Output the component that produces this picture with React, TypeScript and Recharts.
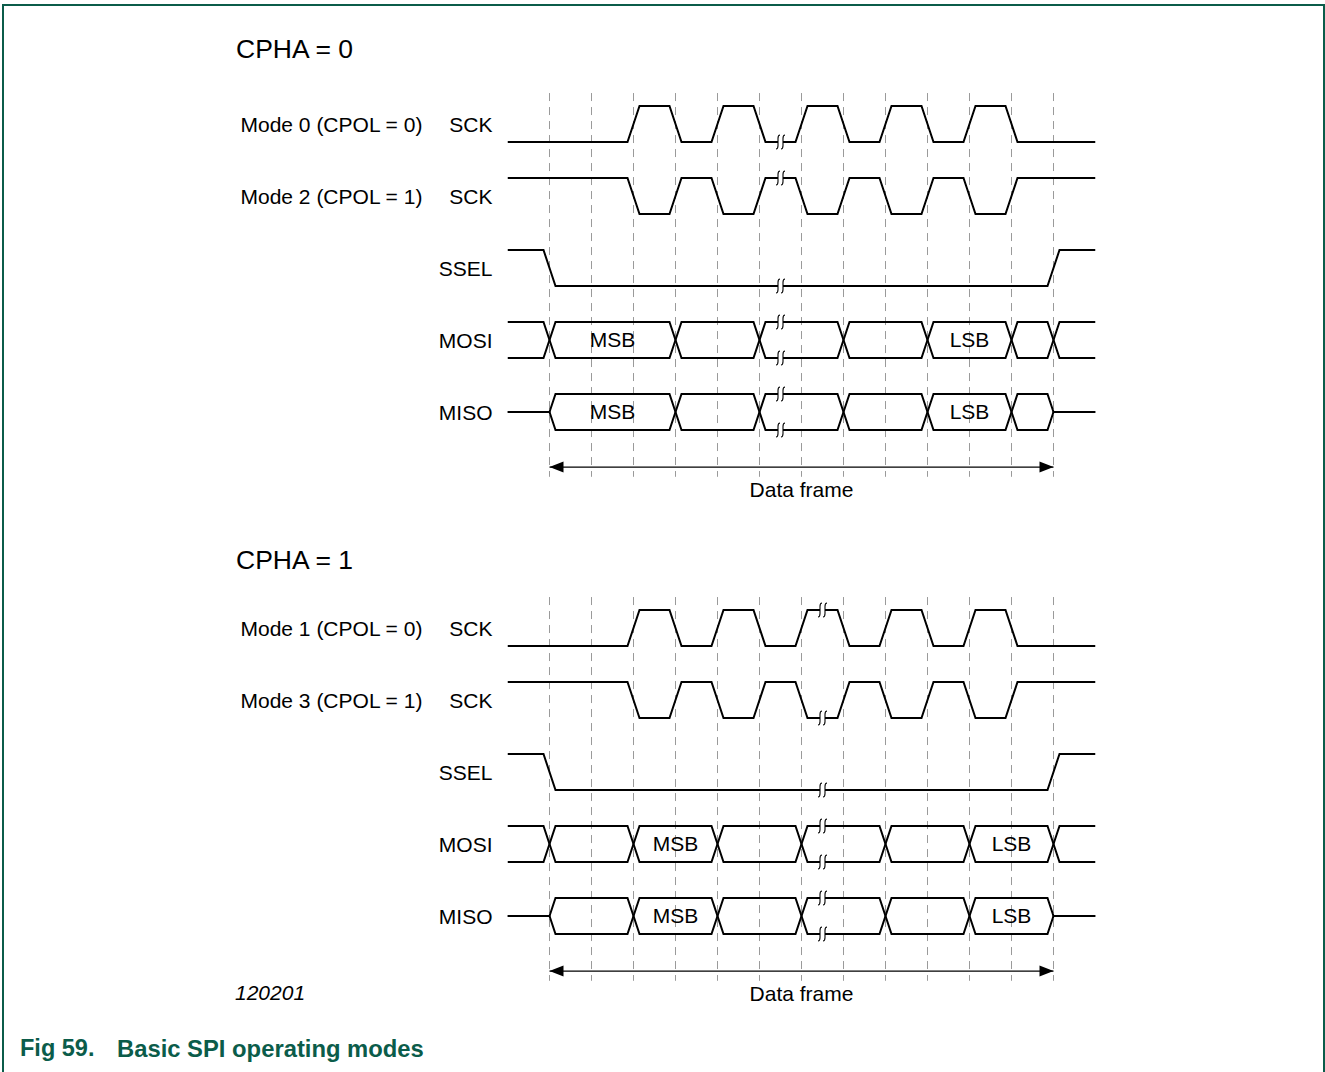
import { LineChart, Line, XAxis, YAxis, ReferenceLine, ReferenceDot } from 'recharts'

// time axis is in half clock periods (one dashed guide per unit), level axis in half rows
const sectionTitles = ['CPHA = 0', 'CPHA = 1']
const clockModes = [
  ['Mode 0 (CPOL = 0)', 'Mode 2 (CPOL = 1)'],
  ['Mode 1 (CPOL = 0)', 'Mode 3 (CPOL = 1)'],
]
const signalNames = ['SCK', 'SCK', 'SSEL', 'MOSI', 'MISO']
const cpolIdle = [0, 1]
const sckEdges = [2, 3, 4, 5, 6, 7, 8, 9, 10, 11]
const sselEdges = [0, 12]
const mosiEdges = [
  [0, 3, 5, 7, 9, 11, 12],
  [0, 2, 4, 6, 8, 10, 12],
]
const misoEdges = [
  [0, 3, 5, 7, 9, 11, 12],
  [0, 2, 4, 6, 8, 10, 12],
]
const msbSpan = [[0, 3], [2, 4]]
const lsbSpan = [[9, 11], [10, 12]]
const breakAt = [5.5, 6.5]
const frameSpan = [0, 12]
const guideSlots = [0, 1, 2, 3, 4, 5, 6, 7, 8, 9, 10, 11, 12]

const T0 = -1
const T1 = 13
const HALF = 1 / 7 // half of an edge's rise time
const ROW = 2
const SECTION = 14
const FONT = "'Liberation Sans', Arial, Helvetica, sans-serif"
const GREEN = '#0b5c4a'

type Pt = { x: number; y: number }

function digital(edges: number[], idle: number, base: number): Pt[] {
  let lv = idle
  const pts: Pt[] = [{ x: T0, y: base + lv }]
  edges.forEach((e) => {
    pts.push({ x: e - HALF, y: base + lv })
    lv = 1 - lv
    pts.push({ x: e + HALF, y: base + lv })
  })
  pts.push({ x: T1, y: base + lv })
  return pts
}

function levelAt(edges: number[], idle: number, t: number) {
  return edges.filter((e) => e < t).length % 2 ? 1 - idle : idle
}

function bus(edges: number[], base: number, tristate: boolean): Pt[][] {
  return [1, 0].map((start) => {
    let lv = start
    const pts: Pt[] = []
    edges.forEach((e, i) => {
      const first = i === 0
      const last = i === edges.length - 1
      if (tristate && first) {
        pts.push({ x: T0, y: base + 0.5 }, { x: e, y: base + 0.5 }, { x: e + HALF, y: base + lv })
        return
      }
      if (first) pts.push({ x: T0, y: base + lv })
      if (tristate && last) {
        pts.push({ x: e - HALF, y: base + lv }, { x: e, y: base + 0.5 }, { x: T1, y: base + 0.5 })
        return
      }
      pts.push({ x: e - HALF, y: base + lv })
      lv = 1 - lv
      pts.push({ x: e + HALF, y: base + lv })
    })
    if (!tristate) pts.push({ x: T1, y: base + lv })
    return pts
  })
}

const rowBase = (s: number, r: number) => -ROW * r - SECTION * s

const waves: { key: string; points: Pt[] }[] = []
const breaks: Pt[] = []
const rowTicks: { v: number; name: string; mode: string }[] = []

sectionTitles.forEach((_, s) => {
  const bx = breakAt[s]
  cpolIdle.forEach((idle, r) => {
    waves.push({ key: `sck-${s}-${r}`, points: digital(sckEdges, idle, rowBase(s, r)) })
    breaks.push({ x: bx, y: rowBase(s, r) + levelAt(sckEdges, idle, bx) })
  })
  waves.push({ key: `ssel-${s}`, points: digital(sselEdges, 1, rowBase(s, 2)) })
  breaks.push({ x: bx, y: rowBase(s, 2) + levelAt(sselEdges, 1, bx) })
  bus(mosiEdges[s], rowBase(s, 3), false).forEach((p, i) => waves.push({ key: `mosi-${s}-${i}`, points: p }))
  bus(misoEdges[s], rowBase(s, 4), true).forEach((p, i) => waves.push({ key: `miso-${s}-${i}`, points: p }))
  ;[3, 4].forEach((r) => {
    breaks.push({ x: bx, y: rowBase(s, r) + 1 }, { x: bx, y: rowBase(s, r) })
  })
  signalNames.forEach((name, r) => {
    rowTicks.push({ v: rowBase(s, r) + 0.5, name, mode: r < 2 ? clockModes[s][r] : '' })
  })
})

const BreakMark = ({ cx, cy }: any) => (
  <g>
    <rect x={cx - 2.5} y={cy - 2} width={5} height={4} fill="#fff" />
    {[-2.5, 2.5].map((d) => {
      const x = cx + d
      return (
        <path
          key={d}
          d={`M${x + 2},${cy - 7} Q${x},${cy - 7} ${x},${cy - 3.5} L${x},${cy + 3.5} Q${x},${cy + 7} ${x - 2},${cy + 7}`}
          fill="none"
          stroke="#000"
          strokeWidth={1.1}
        />
      )
    })}
  </g>
)

const ArrowHead = (props: any) => {
  const { cx, cy, index } = props
  const dir = index === 0 ? 1 : -1
  return (
    <path
      key={`ah-${index}`}
      d={`M${cx},${cy} L${cx + dir * 14},${cy - 5.5} L${cx + dir * 14},${cy + 5.5} Z`}
      fill="#000"
    />
  )
}

const RowTick = ({ x, y, payload }: any) => {
  const row = rowTicks.find((t) => t.v === payload.value)
  if (!row) return null
  return (
    <g fontFamily={FONT} fontSize={21} fill="#000">
      <text x={x} y={y} dy="0.36em" textAnchor="end">{row.name}</text>
      {row.mode && <text x={x - 252} y={y} dy="0.36em" textAnchor="start">{row.mode}</text>}
    </g>
  )
}

const arrowLevel = (s: number) => -9.03 - SECTION * s

const bitLabel = (value: string) => ({ value, position: 'center' as const, fontSize: 21, fill: '#000', fontFamily: FONT })

export default function App() {
  return (
    <div style={{ position: 'absolute', left: 0, top: 0, width: 1325, height: 1072, background: '#fff', fontFamily: FONT }}>
      <div
        style={{
          position: 'absolute', left: 2, top: 4, width: 1323, height: 1068, boxSizing: 'border-box',
          borderTop: `2px solid ${GREEN}`, borderLeft: `2px solid ${GREEN}`, borderRight: `2px solid ${GREEN}`,
        }}
      />
      <LineChart width={1325} height={1072} margin={{ top: 70, right: 229.5, bottom: 66, left: 0 }}>
        <XAxis type="number" dataKey="x" domain={[T0, T1]} hide allowDataOverflow />
        <YAxis
          type="number"
          dataKey="y"
          domain={[-24, 2]}
          ticks={rowTicks.map((t) => t.v)}
          interval={0}
          width={507.5}
          tickSize={0}
          tickMargin={15}
          tickLine={false}
          axisLine={false}
          tick={<RowTick />}
          allowDataOverflow
        />
        {sectionTitles.map((_, s) =>
          guideSlots.map((k) => (
            <ReferenceLine
              key={`g-${s}-${k}`}
              segment={[{ x: k, y: 1.36 - SECTION * s }, { x: k, y: -9.3 - SECTION * s }]}
              stroke="#9a9a9a"
              strokeWidth={1}
              strokeDasharray="8 6"
            />
          ))
        )}
        {waves.map((w) => (
          <Line
            key={w.key}
            data={w.points}
            dataKey="y"
            type="linear"
            stroke="#000"
            strokeWidth={2}
            dot={false}
            activeDot={false}
            isAnimationActive={false}
          />
        ))}
        {sectionTitles.map((_, s) => (
          <Line
            key={`frame-${s}`}
            data={[{ x: frameSpan[0], y: arrowLevel(s) }, { x: frameSpan[1], y: arrowLevel(s) }]}
            dataKey="y"
            stroke="#000"
            strokeWidth={1.3}
            dot={ArrowHead}
            activeDot={false}
            isAnimationActive={false}
          />
        ))}
        {breaks.map((b, i) => (
          <ReferenceDot key={`b-${i}`} x={b.x} y={b.y} r={0} shape={BreakMark} />
        ))}
        {sectionTitles.map((_, s) =>
          [3, 4].map((r) =>
            [msbSpan[s], lsbSpan[s]].map((span, j) => (
              <ReferenceDot
                key={`lbl-${s}-${r}-${j}`}
                x={(span[0] + span[1]) / 2}
                y={rowBase(s, r) + 0.5}
                r={0}
                stroke="none"
                label={bitLabel(j === 0 ? 'MSB' : 'LSB')}
              />
            ))
          )
        )}
        {sectionTitles.map((_, s) => (
          <ReferenceDot
            key={`df-${s}`}
            x={(frameSpan[0] + frameSpan[1]) / 2}
            y={arrowLevel(s)}
            r={0}
            stroke="none"
            label={{ value: 'Data frame', position: 'bottom', offset: 15, fontSize: 21, fill: '#000', fontFamily: FONT }}
          />
        ))}
      </LineChart>
      {sectionTitles.map((t, s) => (
        <div key={t} style={{ position: 'absolute', left: 236, top: [36, 547][s], fontSize: 26.5, lineHeight: 1, color: '#000' }}>
          {t}
        </div>
      ))}
      <div style={{ position: 'absolute', left: 235, top: 982, fontSize: 21, lineHeight: 1, fontStyle: 'italic', color: '#000' }}>
        120201
      </div>
      <div style={{ position: 'absolute', left: 20, top: 1037, fontSize: 23.5, lineHeight: 1, fontWeight: 'bold', color: GREEN }}>
        Fig 59.
      </div>
      <div style={{ position: 'absolute', left: 117, top: 1037, fontSize: 23.8, lineHeight: 1, fontWeight: 'bold', color: GREEN }}>
        Basic SPI operating modes
      </div>
    </div>
  )
}
